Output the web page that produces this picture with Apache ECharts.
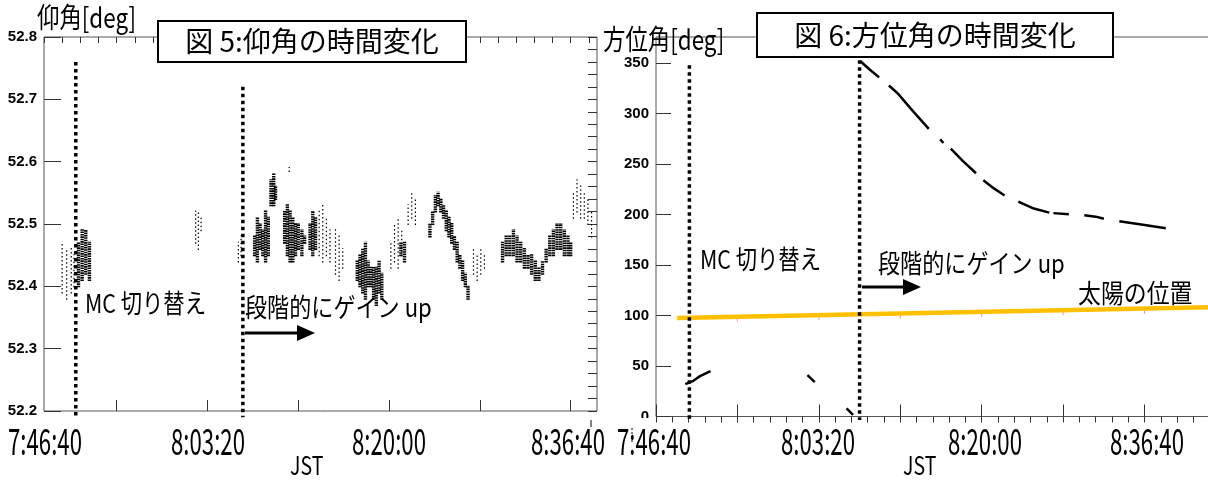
<!DOCTYPE html>
<html>
<head>
<meta charset="utf-8">
<script src="https://cdn.jsdelivr.net/npm/echarts@6/dist/echarts.min.js"></script>
<style>
  html, body { margin: 0; padding: 0; background: #fff; }
  #chart { width: 1208px; height: 481px; }
</style>
</head>
<body>
<div id="chart"></div>
<script>
// x: minutes after 7:00 JST
const elevTicks = [52.2, 52.3, 52.4, 52.5, 52.6, 52.7, 52.8]
const azimTicks = [0, 50, 100, 150, 200, 250, 300, 350]
const timeLabels = ['7:46:40', '8:03:20', '8:20:00', '8:36:40']

// events: MC切り替え, 段階的にゲインup  [time, top value]
const eventsLeft = [[45.5, 52.76], [63.9, 52.72]]
const eventsRight = [[44.1, 348], [65.0, 353]]

// elevation: [time, low, high] of the point clusters
const elevDense = [
  [45.8, 52.40, 52.47], [46.2, 52.41, 52.49], [46.6, 52.42, 52.49], [47.0, 52.41, 52.47],
  [65.2, 52.45, 52.48], [65.5, 52.44, 52.51], [65.8, 52.46, 52.50], [66.1, 52.45, 52.49],
  [66.4, 52.44, 52.52], [66.7, 52.45, 52.51],
  [67.0, 52.53, 52.57], [67.3, 52.53, 52.58], [67.5, 52.54, 52.56],
  [68.5, 52.47, 52.52], [68.8, 52.45, 52.53], [69.1, 52.44, 52.52], [69.4, 52.44, 52.51],
  [69.7, 52.45, 52.50], [70.0, 52.46, 52.50], [70.4, 52.45, 52.49], [70.7, 52.47, 52.48],
  [71.3, 52.46, 52.50], [71.6, 52.45, 52.52], [71.9, 52.46, 52.51],
  [76.5, 52.41, 52.44], [76.8, 52.40, 52.45], [77.1, 52.39, 52.46], [77.4, 52.38, 52.47],
  [77.7, 52.40, 52.44], [78.0, 52.40, 52.43], [78.3, 52.38, 52.43], [78.6, 52.37, 52.43],
  [78.9, 52.39, 52.44], [79.2, 52.38, 52.42],
  [81.3, 52.45, 52.47], [81.7, 52.44, 52.47],
  [84.5, 52.48, 52.50], [84.8, 52.50, 52.52], [85.1, 52.52, 52.545], [85.4, 52.53, 52.55],
  [85.7, 52.52, 52.54], [86.0, 52.51, 52.53], [86.3, 52.49, 52.52], [86.6, 52.48, 52.51],
  [86.9, 52.47, 52.50], [87.2, 52.46, 52.48], [87.5, 52.44, 52.47], [87.8, 52.43, 52.45],
  [88.1, 52.41, 52.44], [88.4, 52.40, 52.42], [88.7, 52.38, 52.40],
  [92.5, 52.44, 52.47], [92.9, 52.45, 52.48], [93.3, 52.45, 52.48], [93.7, 52.45, 52.49],
  [94.1, 52.44, 52.48], [94.5, 52.44, 52.47], [94.9, 52.43, 52.46], [95.3, 52.43, 52.45],
  [95.7, 52.42, 52.45], [96.1, 52.41, 52.44], [96.5, 52.41, 52.43], [96.9, 52.42, 52.44],
  [97.3, 52.44, 52.46], [97.7, 52.45, 52.48], [98.1, 52.45, 52.49], [98.5, 52.46, 52.50],
  [98.9, 52.46, 52.50], [99.3, 52.45, 52.49], [99.7, 52.45, 52.48], [100.0, 52.45, 52.47]
]
const elevSparse = [
  [44.0, 52.39, 52.47], [44.5, 52.38, 52.46], [45.0, 52.39, 52.46], [45.3, 52.40, 52.45],
  [58.7, 52.47, 52.52], [59.0, 52.46, 52.52], [59.3, 52.49, 52.51],
  [63.4, 52.44, 52.47], [63.7, 52.45, 52.48], [69.0, 52.585, 52.59],
  [72.3, 52.45, 52.52], [72.7, 52.44, 52.53], [73.1, 52.45, 52.51], [73.5, 52.44, 52.49],
  [74.1, 52.42, 52.49], [74.5, 52.41, 52.48], [74.9, 52.43, 52.46],
  [80.2, 52.43, 52.47], [80.6, 52.44, 52.50], [81.0, 52.43, 52.51], [81.4, 52.45, 52.49],
  [82.1, 52.50, 52.53], [82.5, 52.51, 52.55], [82.9, 52.50, 52.54],
  [89.3, 52.42, 52.46], [89.7, 52.41, 52.45], [90.1, 52.42, 52.46], [90.5, 52.43, 52.45],
  [100.3, 52.51, 52.55], [100.7, 52.52, 52.57], [101.1, 52.51, 52.56], [101.5, 52.51, 52.55],
  [101.9, 52.50, 52.54], [102.3, 52.48, 52.52]
]

// azimuth track, broken into the drawn pieces
const azimSegments = [
  [[43.6, 32], [44.5, 35], [45.4, 40], [46.7, 45]],
  [[58.6, 41], [59.5, 34]],
  [[63.4, 8], [64.2, 1.5]],
  [[65.1, 352], [66.2, 344], [67.4, 336]],
  [[68.6, 328], [69.7, 320], [71.5, 303], [73.5, 285]],
  [[74.9, 274.5], [75.3, 271]],
  [[76.2, 265.5], [77.7, 253], [79.3, 241]],
  [[80.2, 234], [81.5, 226], [82.8, 219]],
  [[84.5, 213], [86.4, 206], [88.3, 202]],
  [[88.8, 201.5], [90.7, 200.5]],
  [[92.6, 199.5], [94.0, 198], [95.0, 196]],
  [[96.9, 193.5], [99.8, 190], [102.6, 186.5]]
]
const sunLine = [[42.6, 97.5], [110, 108.5]]
const sunPoints = [[50, 96.5], [60, 98], [70, 99.6], [80, 101.2], [90, 102.8], [100, 104.4]]

const tickColor = '#333'
const jpFont = '"Noto Sans CJK JP", sans-serif'

function range(a, b, step, digits) {
  const out = []
  for (let i = 0; a + i * step <= b + 1e-9; i++) out.push(+(a + i * step).toFixed(digits))
  return out
}

function tickAxis(dim, grid, min, max, values, len, labels) {
  return {
    type: 'value', gridIndex: grid, min, max,
    axisLine: { show: false },
    splitLine: { show: false },
    axisTick: { show: true, inside: true, length: len, customValues: values, lineStyle: { color: tickColor } },
    axisLabel: labels
      ? { show: true, customValues: labels, margin: dim === 'y' ? 7 : 8, color: '#000',
          fontFamily: '"Liberation Sans", Arial, sans-serif', fontWeight: 'bold', fontSize: 15 }
      : { show: false }
  }
}

function rangeSeries(data, x, y, width, dash) {
  return {
    type: 'custom', xAxisIndex: x, yAxisIndex: y, data, silent: true,
    renderItem(params, api) {
      const p1 = api.coord([api.value(0), api.value(1)])
      const p2 = api.coord([api.value(0), api.value(2)])
      return {
        type: 'line',
        shape: { x1: p1[0], y1: p1[1] + 1, x2: p2[0], y2: p2[1] - 1 },
        style: { stroke: '#000', lineWidth: width, lineDash: dash }
      }
    }
  }
}

function eventSeries(events, bottom, x, y) {
  return events.map(e => ({
    type: 'line', xAxisIndex: x, yAxisIndex: y, clip: false, silent: true, symbol: 'none',
    data: [[e[0], e[1]], [e[0], bottom]],
    lineStyle: { color: '#000', width: 3.5, type: [3.5, 3.5], cap: 'butt' }
  }))
}

function text(str, x, y, size, sx, align, vAlign) {
  return {
    type: 'text', x, y, scaleX: sx, z: 100,
    style: { text: str, fontSize: size, fontFamily: jpFont, fill: '#000', align: align || 'left', verticalAlign: vAlign || 'top' }
  }
}

// where the hand-placed labels sit
const timeLabelX = [[8, 171, 352, 531], [617, 781, 948, 1110]]

const chart = echarts.init(document.getElementById('chart'), null, { renderer: 'canvas' })

const graphic = [
  text('仰角[deg]', 37, 3, 28, 0.8),
  text('方位角[deg]', 603, 25, 28, 0.8),
  { type: 'rect', z: 99, shape: { x: 158, y: 21, width: 308, height: 41 }, style: { fill: '#fff', stroke: '#000', lineWidth: 2 } },
  { type: 'rect', z: 99, shape: { x: 757, y: 13, width: 356, height: 44 }, style: { fill: '#fff', stroke: '#000', lineWidth: 2 } },
  text('図 5:仰角の時間変化', 312, 41, 28, 1, 'center', 'middle'),
  text('図 6:方位角の時間変化', 935, 35, 28, 1, 'center', 'middle'),
  text('MC 切り替え', 85, 290, 26, 0.82),
  text('段階的にゲイン up', 245, 294, 26, 0.85),
  text('MC 切り替え', 700, 246, 26, 0.82),
  text('段階的にゲイン up', 878, 250, 26, 0.85),
  text('太陽の位置', 1078, 280, 26, 0.88),
  { type: 'line', z: 100, shape: { x1: 245, y1: 333, x2: 300, y2: 333 }, style: { stroke: '#000', lineWidth: 3 } },
  { type: 'polygon', z: 100, shape: { points: [[297, 325], [315, 333], [297, 341]] }, style: { fill: '#000' } },
  { type: 'line', z: 100, shape: { x1: 862, y1: 287, x2: 906, y2: 287 }, style: { stroke: '#000', lineWidth: 3 } },
  { type: 'polygon', z: 100, shape: { points: [[903, 279], [921, 287], [903, 295]] }, style: { fill: '#000' } },
  // stray marks of the scanned figure
  { type: 'rect', z: 100, shape: { x: 634, y: 418, width: 20, height: 8 }, style: { fill: '#fff' } },
  { type: 'line', z: 100, shape: { x1: 632, y1: 428, x2: 632, y2: 442 }, style: { stroke: '#000', lineWidth: 1, lineDash: [2, 2] } },
  { type: 'line', z: 100, shape: { x1: 591, y1: 420, x2: 591, y2: 427 }, style: { stroke: '#000', lineWidth: 1 } },
  text('JST', 290, 452, 26, 0.75),
  text('JST', 903, 452, 26, 0.75)
]
timeLabelX.forEach(xs => xs.forEach((x, i) => graphic.push(text(timeLabels[i], x, 422, 37, 0.6))))

chart.setOption({
  animation: false,
  backgroundColor: '#fff',
  grid: [
    { left: 44, top: 37, width: 553, height: 374, show: true, borderColor: '#555', borderWidth: 1, outerBoundsMode: 'none' },
    { left: 656, top: 37, width: 570, height: 379.5, show: true, borderColor: '#555', borderWidth: 1, outerBoundsMode: 'none' }
  ],
  xAxis: [
    tickAxis('x', 0, 42, 102.9, range(50, 100, 10, 0), 11),
    tickAxis('x', 0, 42, 102.9, range(42, 102, 2, 0), 6),
    tickAxis('x', 1, 40, 110, range(40, 110, 10, 0), 12),
    tickAxis('x', 1, 40, 110, range(40, 110, 2, 0), 6)
  ],
  yAxis: [
    tickAxis('y', 0, 52.2, 52.8, elevTicks, 17, elevTicks),
    tickAxis('y', 0, 52.2, 52.8, range(52.2, 52.8, 0.02, 2), 9),
    tickAxis('y', 1, 0, 376, azimTicks, 15, azimTicks),
    tickAxis('y', 1, 0, 376, range(0, 370, 10, 0), 7)
  ],
  graphic,
  series: [
    rangeSeries(elevSparse, 0, 0, 1.2, [1.5, 2.5]),
    rangeSeries(elevDense, 0, 0, 3.4, [1.6, 0.8]),
    ...eventSeries(eventsLeft, 52.19, 0, 0),
    {
      type: 'scatter', xAxisIndex: 2, yAxisIndex: 2, data: sunPoints, silent: true,
      symbol: 'rect', symbolSize: [1, 5], itemStyle: { color: '#ff7070' }
    },
    {
      type: 'line', xAxisIndex: 2, yAxisIndex: 2, data: sunLine, symbol: 'none', silent: true,
      lineStyle: { color: '#FFC000', width: 4.5 }
    },
    ...azimSegments.map(seg => ({
      type: 'line', xAxisIndex: 2, yAxisIndex: 2, data: seg, symbol: 'none', silent: true,
      lineStyle: { color: '#000', width: 2.5 }
    })),
    ...eventSeries(eventsRight, -3.5, 2, 2)
  ]
})
</script>
</body>
</html>
